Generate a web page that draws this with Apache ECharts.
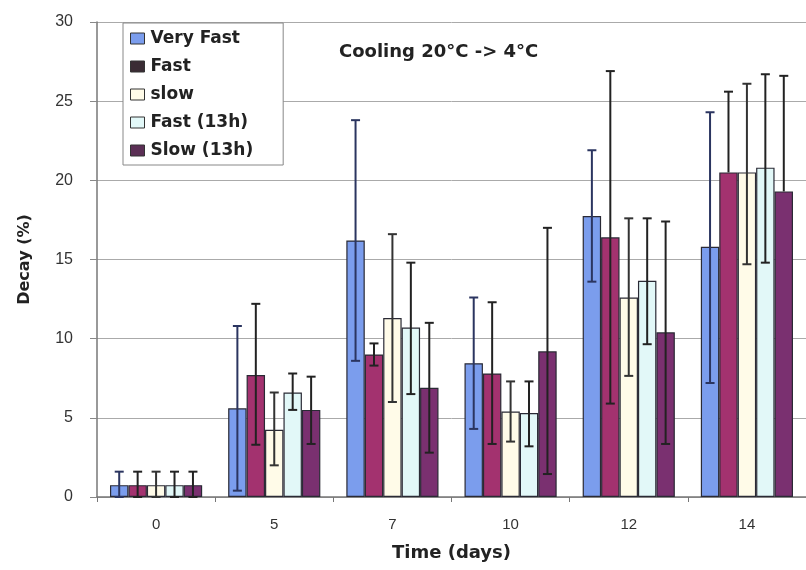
<!DOCTYPE html>
<html><head><meta charset="utf-8">
<script src="https://cdn.jsdelivr.net/npm/echarts@6/dist/echarts.min.js"></script>
<style>html,body{margin:0;padding:0;background:#fff}#c{width:806px;height:570px}</style>
</head><body><div id="c"></div>
<script>
const categories = ['0','5','7','10','12','14'];
const seriesNames = ['Very Fast','Fast','slow','Fast (13h)','Slow (13h)'];
const veryFast     = [0.75, 5.6, 16.2, 8.45, 17.75, 15.8];
const veryFastLow  = [0, 0.4, 8.6, 4.3, 13.6, 7.2];
const veryFastHigh = [1.6, 10.8, 23.8, 12.6, 21.9, 24.3];
const fast         = [0.75, 7.7, 9.0, 7.8, 16.4, 20.5];
const fastLow      = [0, 3.3, 8.3, 3.35, 5.9, null];
const fastHigh     = [1.6, 12.2, 9.7, 12.3, 26.9, 25.6];
const slow         = [0.75, 4.25, 11.3, 5.4, 12.6, 20.5];
const slowLow      = [0, 2.0, 6.0, 3.5, 7.65, 14.7];
const slowHigh     = [1.6, 6.6, 16.6, 7.3, 17.6, 26.1];
const fast13       = [0.75, 6.6, 10.7, 5.3, 13.65, 20.8];
const fast13Low    = [0, 5.5, 6.5, 3.2, 9.65, 14.8];
const fast13High   = [1.6, 7.8, 14.8, 7.3, 17.6, 26.7];
const slow13       = [0.75, 5.5, 6.9, 9.2, 10.4, 19.3];
const slow13Low    = [0, 3.35, 2.8, 1.45, 3.35, null];
const slow13High   = [1.6, 7.6, 11.0, 17.0, 17.4, 26.6];
const yTicks = [0, 5, 10, 15, 20, 25, 30];

const values = [veryFast, fast, slow, fast13, slow13];
const lows = [veryFastLow, fastLow, slowLow, fast13Low, slow13Low];
const highs = [veryFastHigh, fastHigh, slowHigh, fast13High, slow13High];
const colors = ['#7b9ded', '#a3326f', '#fffbe8', '#e2f8f8', '#7a3070'];
const iconColors = ['#7b9ded', '#3a2c34', '#fffbe8', '#e2f8f8', '#5b2f55'];
const errColors = ['#2b3560', '#222222', '#333333', '#222222', '#222222'];
const GAP = 0.22;

const font = 'DejaVu Sans';
const series = [];
seriesNames.forEach((n, i) => {
  series.push({
    name: n, type: 'bar', data: values[i],
    barGap: '0%', barCategoryGap: (GAP*100) + '%',
    itemStyle: { color: colors[i], borderColor: '#2a2a35', borderWidth: 1.2 },
    z: 2
  });
});
seriesNames.forEach((n, i) => {
  series.push({
    name: n + ' err', type: 'custom', z: 5, silent: true,
    data: categories.map((c, k) => [k, lows[i][k] == null ? '-' : lows[i][k], highs[i][k], values[i][k]]),
    encode: { x: 0, y: [1, 2] },
    renderItem: function (params, api) {
      const ci = api.value(0);
      const lo = api.value(1), hi = api.value(2), v = api.value(3);
      const cw = api.size([1, 0])[0];
      const bw = cw * (1 - GAP) / 5;
      const cx = api.coord([ci, 0])[0] + (i - 2) * bw;
      const yHi = api.coord([ci, hi])[1];
      const yV = api.coord([ci, v])[1];
      const hasLo = !isNaN(lo);
      const yLo = hasLo ? api.coord([ci, lo])[1] : yV;
      const cap = 4.5;
      const st = { stroke: errColors[i], lineWidth: 2, fill: null };
      const children = [
        { type: 'line', shape: { x1: cx, y1: yHi, x2: cx, y2: yLo }, style: st },
        { type: 'line', shape: { x1: cx - cap, y1: yHi, x2: cx + cap, y2: yHi }, style: st }
      ];
      if (hasLo) children.push({ type: 'line', shape: { x1: cx - cap, y1: yLo, x2: cx + cap, y2: yLo }, style: st });
      return { type: 'group', children: children };
    }
  });
});

const chart = echarts.init(document.getElementById('c'));
chart.setOption({
  animation: false,
  backgroundColor: '#ffffff',
  grid: { left: 97, top: 22, right: -4, bottom: 73, containLabel: false },
  title: {
    text: 'Cooling 20°C -> 4°C', left: 334, top: 38,
    textStyle: { fontFamily: font, fontWeight: 'bold', fontSize: 18, color: '#222' }
  },
  legend: {
    data: seriesNames.map((n, i) => ({ name: n, itemStyle: { color: iconColors[i], borderColor: '#333', borderWidth: 1 } })),
    orient: 'vertical', left: 123, top: 23,
    backgroundColor: '#ffffff', borderColor: '#888', borderWidth: 1,
    padding: [7, 30, 6, 7], itemGap: 11, itemWidth: 14, itemHeight: 11,
    textStyle: { fontFamily: font, fontWeight: 'bold', fontSize: 17, color: '#222', padding: [0, 0, 0, 1] },
    icon: 'rect'
  },
  xAxis: {
    type: 'category', data: categories,
    name: 'Time (days)', nameLocation: 'middle', nameGap: 47,
    nameTextStyle: { fontFamily: font, fontWeight: 'bold', fontSize: 18, color: '#222' },
    axisLine: { lineStyle: { color: '#777', width: 1.5 } },
    axisTick: { show: true, length: 5, lineStyle: { color: '#777' } },
    axisLabel: { fontFamily: 'Liberation Sans', fontSize: 15, color: '#333', margin: 20 },
    splitLine: { show: false }
  },
  yAxis: {
    type: 'value', min: yTicks[0], max: yTicks[yTicks.length - 1], interval: 5,
    name: 'Decay (%)', nameLocation: 'middle', nameGap: 64, nameRotate: 90,
    nameTextStyle: { fontFamily: font, fontWeight: 'bold', fontSize: 16, color: '#222' },
    axisLine: { show: true, lineStyle: { color: '#777', width: 1.5 } },
    axisTick: { show: true, length: 7, lineStyle: { color: '#888' } },
    axisLabel: { fontFamily: 'Liberation Sans', fontSize: 16, color: '#333', margin: 24 },
    splitLine: { lineStyle: { color: '#aaa', width: 1 } }
  },
  series: series
});
</script></body></html>
